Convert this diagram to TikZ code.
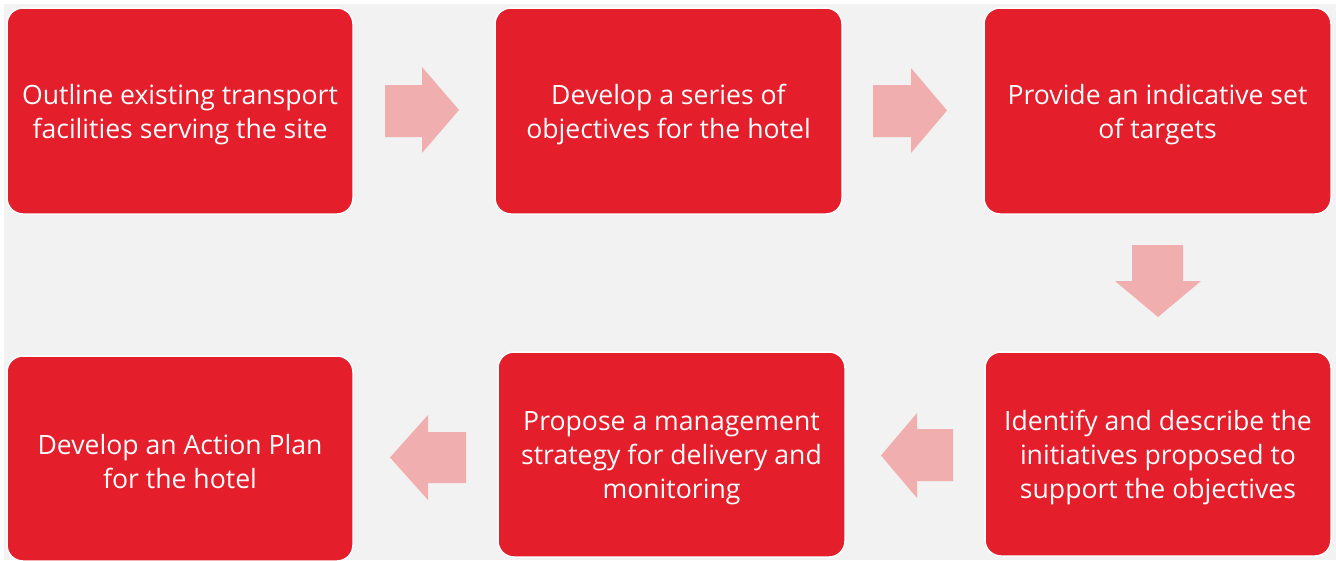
\documentclass[tikz,border=0pt]{standalone}
\usepackage{fontspec}
\setmainfont{Open Sans}
\definecolor{boxred}{HTML}{E41E2A}
\definecolor{arrowpink}{HTML}{F1AEAF}
\definecolor{bggrey}{HTML}{F2F2F2}
\tikzset{
  stepbox/.style={rectangle, rounded corners=16pt, fill=boxred, draw=white, line width=1.5pt,
    inner sep=0pt},
  steptext/.style={text=white, align=center, inner sep=0pt, yshift=-3.5pt,
    font=\fontsize{26.6}{34}\selectfont},
  blockarrow/.style={fill=arrowpink, draw=none}
}
\begin{document}
\begin{tikzpicture}[x=1pt,y=-1pt]
\useasboundingbox (0,0) rectangle (1336,560);
\fill[white] (0,0) rectangle (1336,560);
\fill[bggrey] (4,4) rectangle (1336,560);

\node[stepbox, minimum width=346pt, minimum height=206pt] (b1) at (180,111) {};
\node[steptext] (t1) at (b1.center) {Outline existing transport\\facilities serving the site};
\node[stepbox, minimum width=347pt, minimum height=206pt] (b2) at (668.5,111) {};
\node[steptext] (t2) at (b2.center) {Develop a series of\\objectives for the hotel};
\node[stepbox, minimum width=347pt, minimum height=206pt] (b3) at (1157.5,111) {};
\node[steptext] (t3) at (b3.center) {Provide an indicative set\\of targets};
\node[stepbox, minimum width=346pt, minimum height=204pt] (b4) at (1158,454) {};
\node[steptext] (t4) at (b4.center) {Identify and describe the\\initiatives proposed to\\support the objectives};
\node[stepbox, minimum width=347pt, minimum height=205pt] (b5) at (671.5,454.5) {};
\node[steptext] (t5) at (b5.center) {Propose a management\\strategy for delivery and\\monitoring};
\node[stepbox, minimum width=346pt, minimum height=205pt] (b6) at (180,458.5) {};
\node[steptext] (t6) at (b6.center) {Develop an Action Plan\\for the hotel};

% block arrows between the steps
\fill[blockarrow] (385,85) -- (422,85) -- (422,67) -- (459,110) -- (422,153) -- (422,137) -- (385,137) -- cycle;
\fill[blockarrow] (873,85) -- (911,85) -- (911,68) -- (947,110.5) -- (911,153) -- (911,137) -- (873,137) -- cycle;
\fill[blockarrow] (1132,245) -- (1183,245) -- (1183,281) -- (1201,281) -- (1158,317) -- (1115,281) -- (1132,281) -- cycle;
\fill[blockarrow] (953,429) -- (917,429) -- (917,413) -- (881,455.5) -- (917,498) -- (917,481) -- (953,481) -- cycle;
\fill[blockarrow] (466,432) -- (428,432) -- (428,415) -- (390,457.5) -- (428,500) -- (428,483) -- (466,483) -- cycle;
\end{tikzpicture}
\end{document}
